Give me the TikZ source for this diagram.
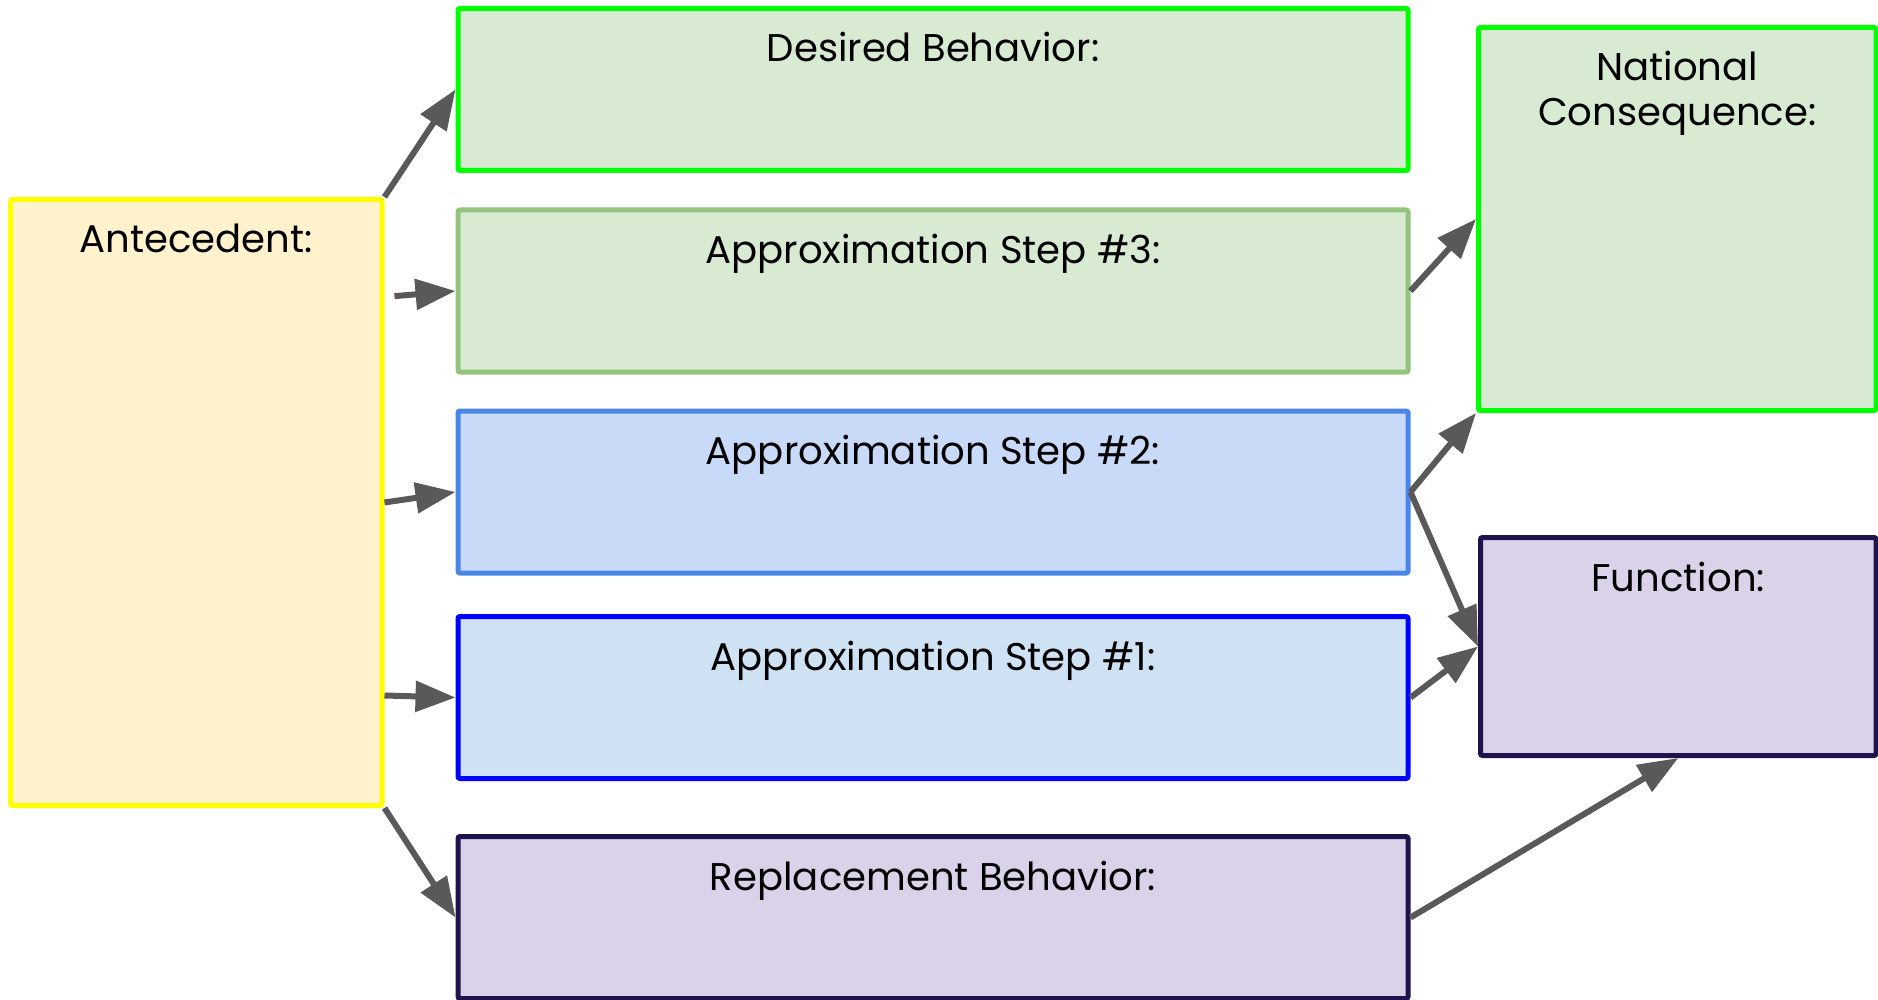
\documentclass[tikz,border=0pt]{standalone}
\usepackage{fontspec}
\setmainfont{Poppins}
\usepackage{tikz}
\usetikzlibrary{arrows.meta, positioning}
\definecolor{antfill}{HTML}{FFF2CC}
\definecolor{antline}{HTML}{FFFF00}
\definecolor{greenfill}{HTML}{D9EAD3}
\definecolor{greenline}{HTML}{00FF00}
\definecolor{paleline}{HTML}{93C47D}
\definecolor{skyfill}{HTML}{C9DAF8}
\definecolor{skyline}{HTML}{4A86E8}
\definecolor{bluefill}{HTML}{CFE2F3}
\definecolor{blueline}{HTML}{0000FF}
\definecolor{purplefill}{HTML}{D9D2E9}
\definecolor{purpleline}{HTML}{20124D}
\definecolor{linkgrey}{HTML}{595959}

\begin{document}
\begin{tikzpicture}[x=0.5pt, y=-0.5pt, font=\fontsize{19.3}{22.3}\selectfont]
    \tikzstyle{box} = [rectangle, rounded corners=1pt, line width=2.5pt, minimum width=475pt, minimum height=81pt]
    \tikzstyle{antbox} = [box, draw=antline, fill=antfill, minimum width=185.75pt, minimum height=303pt]
    \tikzstyle{goalbox} = [box, draw=greenline, fill=greenfill]
    \tikzstyle{stepthree} = [box, draw=paleline, fill=greenfill]
    \tikzstyle{steptwo} = [box, draw=skyline, fill=skyfill]
    \tikzstyle{stepone} = [box, draw=blueline, fill=bluefill]
    \tikzstyle{replbox} = [box, draw=purpleline, fill=purplefill]
    \tikzstyle{title} = [anchor=base, align=center, inner sep=0pt]
    \tikzstyle{link} = [draw=linkgrey, line width=3pt, -{Triangle[length=20pt, width=15pt]}]

    \useasboundingbox (0,0) rectangle (1878,1000);

    \node [antbox] (ant) at (196.25,502.5) {};

    \node [goalbox] (des) at (933,89.5) {};
    \node [stepthree, below=17.25pt of des] (ap3) {};
    \node [steptwo, below=17pt of ap3] (ap2) {};
    \node [stepone, below=19.25pt of ap2] (ap1) {};
    \node [replbox, below=26.5pt of ap1] (rep) {};

    \node [goalbox, minimum width=198.75pt, minimum height=191.5pt] (nc) at (1677.25,219) {};
    \node [replbox, minimum width=197.75pt, minimum height=109pt] (fun) at (1678.25,646.5) {};

    \node [title] (anttext) at ([yshift=-28pt]ant.north) {Antecedent:};
    \node [title] (destext) at ([yshift=-28pt]des.north) {Desired Behavior:};
    \node [title] (ap3text) at ([yshift=-28pt]ap3.north) {Approximation Step \#3:};
    \node [title] (ap2text) at ([yshift=-28pt]ap2.north) {Approximation Step \#2:};
    \node [title] (ap1text) at ([yshift=-28pt]ap1.north) {Approximation Step \#1:};
    \node [title] (reptext) at ([yshift=-28pt]rep.north) {Replacement Behavior:};
    % two lines: the base is that of the second line
    \node [title] (nctext) at ([yshift=-50.3pt]nc.north) {National\\Consequence:};
    \node [title] (funtext) at ([yshift=-28pt]fun.north) {Function:};

    \path [link] (ant.north east) -- (des.west);
    \path [link, shorten <=5pt] ([yshift=-3pt]ant.east |- ap3.west) -- (ap3.west);
    \path [link] (ant.east) -- (ap2.west);
    \path [link] ([yshift=1pt]ant.east |- ap1.west) -- (ap1.west);
    \path [link] (ant.south east) -- (rep.west);

    \path [link] (ap3.east) -- (nc.west);
    \path [link] (ap2.east) -- (nc.south west);
    \path [link] (ap2.east) -- (fun.west);
    \path [link] (ap1.east) -- (fun.west);
    \path [link] (rep.east) -- (fun.south);
\end{tikzpicture}
\end{document}
